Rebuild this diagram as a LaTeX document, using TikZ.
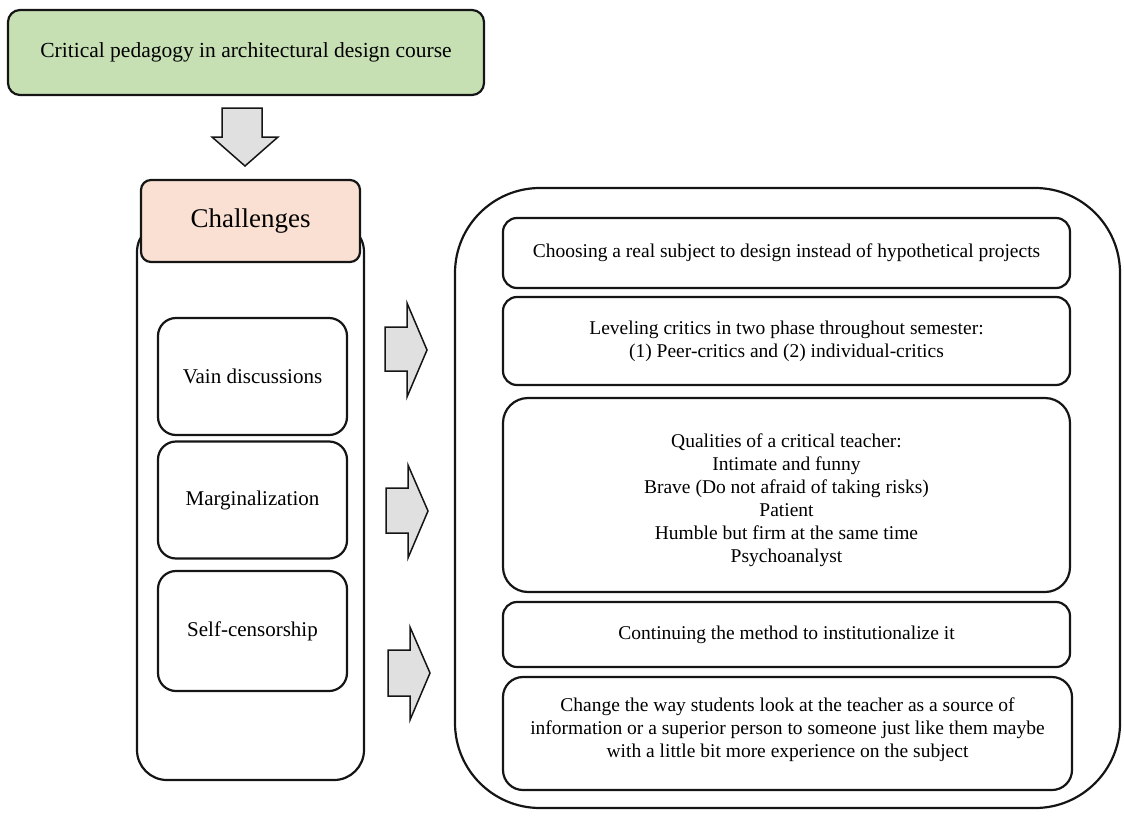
\documentclass[tikz,border=0pt]{standalone}
\usepackage{fontspec}
\setmainfont{Liberation Serif}
\definecolor{topgreen}{HTML}{C6E0B4}
\definecolor{peach}{HTML}{FAE0D2}
\definecolor{arrowgray}{HTML}{E0E0E0}
\definecolor{edge}{HTML}{151515}
\begin{document}
\begin{tikzpicture}[x=1pt,y=-1pt,
  rbox/.style={draw=edge,line width=2.2pt,rounded corners=#1,align=center,inner sep=0pt},
  rbox/.default=12pt,
  blockarrow/.style={draw=edge,line width=1.5pt,fill=arrowgray,line join=miter},
  txtR/.style={font=\fontsize{19.5}{23}\selectfont},
  txtL/.style={font=\fontsize{21}{24}\selectfont},
  plain/.style={align=center,inner sep=0pt},
]
\useasboundingbox (0,0) rectangle (1124,816);

% top box
\node[rbox=12pt,fill=topgreen,minimum width=476pt,minimum height=85pt,font=\fontsize{21.5}{25}\selectfont] (top) at (246,52.5) {Critical pedagogy in architectural design course};

% down arrow
\draw[blockarrow] (222,108) -- (262,108) -- (262,137) -- (278,137) -- (245,166) -- (212,137) -- (222,137) -- cycle;

% left outer box and header
\node[rbox=30pt,minimum width=227pt,minimum height=558pt] (leftouter) at (250.5,501) {};
\node[rbox=10pt,fill=peach,minimum width=219pt,minimum height=82pt,font=\fontsize{27}{30}\selectfont] (chal) at (250.5,221) {Challenges};

\node[rbox=18pt,txtL,minimum width=189pt,minimum height=117pt] (vain) at (252.5,376.5) {Vain discussions};
\node[rbox=18pt,txtL,minimum width=189pt,minimum height=117pt] (marg) at (252.5,500) {Marginalization};
\node[rbox=18pt,txtL,minimum width=189pt,minimum height=120pt] (self) at (252.5,631) {Self-censorship};

% right arrows
\draw[blockarrow] (385,327) -- (407,327) -- (407,303) -- (427,350) -- (407,397) -- (407,371) -- (385,371) -- cycle;
\draw[blockarrow] (386,488) -- (408,488) -- (408,465) -- (428,511) -- (408,558) -- (408,533) -- (386,533) -- cycle;
\draw[blockarrow] (388,650) -- (410,650) -- (410,627) -- (430,673) -- (410,720) -- (410,696) -- (388,696) -- cycle;

% right outer box
\node[rbox=85pt,minimum width=665pt,minimum height=620pt] (rightouter) at (787.5,498) {};

\node[rbox=14pt,txtR,minimum width=567pt,minimum height=70pt] (r1) at (786.5,253) {Choosing a real subject to design instead of hypothetical projects};
\node[rbox=14pt,txtR,minimum width=567pt,minimum height=88pt] (r2) at (786.5,341) {Leveling critics in two phase throughout semester:\\(1) Peer-critics and (2) individual-critics};
\node[rbox=25pt,minimum width=567pt,minimum height=194pt] (r3) at (786.5,495) {};
\node[plain,txtR] (r3text) at (786.5,500) {Qualities of a critical teacher:\\Intimate and funny\\Brave (Do not afraid of taking risks)\\Patient\\Humble but firm at the same time\\Psychoanalyst};
\node[rbox=14pt,txtR,minimum width=567pt,minimum height=65pt] (r4) at (786.5,634.5) {Continuing the method to institutionalize it};
\node[rbox=20pt,minimum width=569pt,minimum height=113pt] (r5) at (787.5,733.5) {};
\node[plain,txtR] (r5text) at (787.5,729.5) {Change the way students look at the teacher as a source of\\information or a superior person to someone just like them maybe\\with a little bit more experience on the subject};
\end{tikzpicture}
\end{document}
